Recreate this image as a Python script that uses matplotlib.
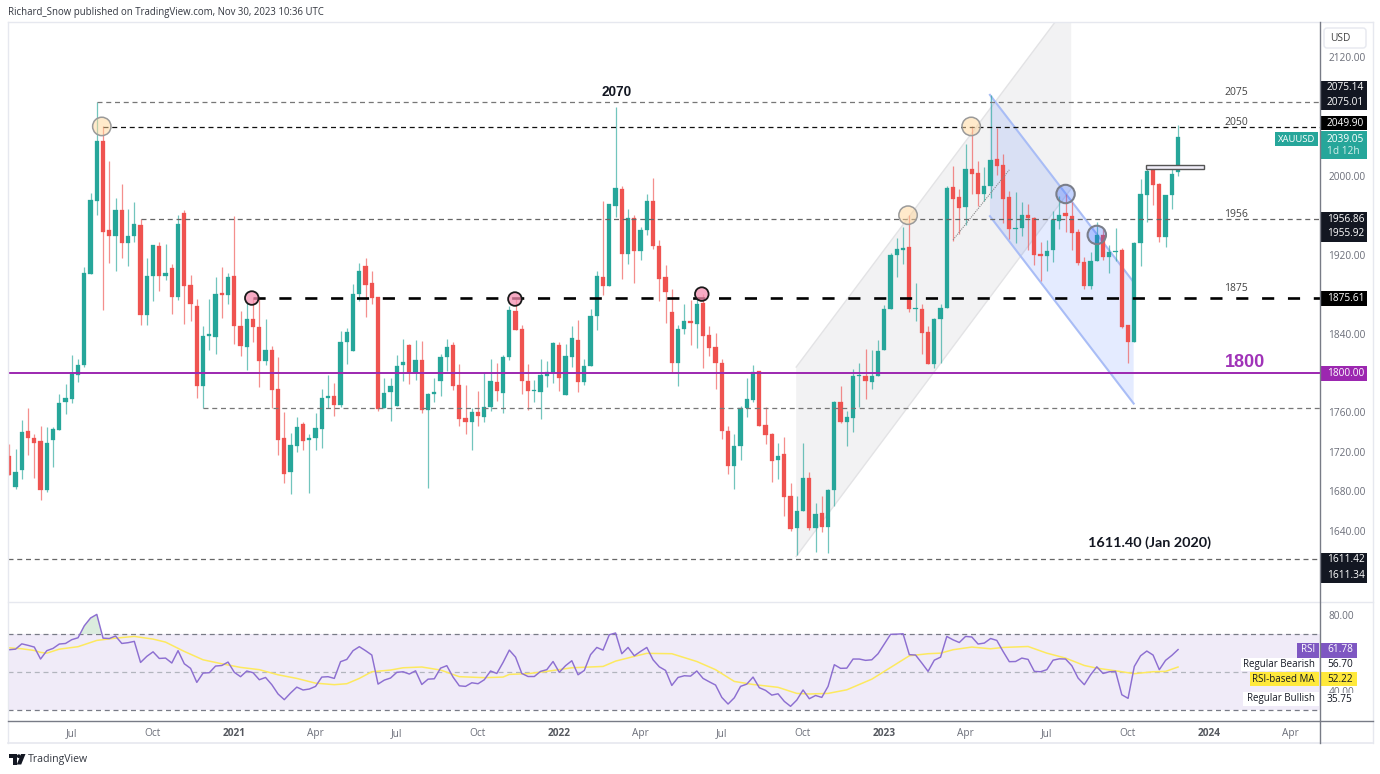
import numpy as np
import pandas as pd
import matplotlib
matplotlib.use("Agg")
import matplotlib.pyplot as plt
from matplotlib.patches import Polygon, Ellipse, Rectangle, FancyBboxPatch, Circle

plt.rcParams['font.family'] = ['Open Sans', 'Noto Sans', 'DejaVu Sans']

opens = [1716,1684,1702,1741,1734,1731,1681,1732,1742,1771,1774,1798,1808,1900,1974,2035,1945,1939,1965,1932,
         1939,1950,1859,1898,1929,1898,1906,1877,1962,1889,1868,1787,1838,1837,1881,1879,1898,1848,1826,1855,
         1847,1812,1823,1784,1734,1700,1726,1748,1732,1734,1743,1775,1777,1768,1831,1822,1880,1908,1891,1877,
         1764,1781,1767,1808,1828,1800,1813,1762,1779,1792,1816,1828,1788,1754,1750,1760,1755,1766,1791,1780,
         1816,1863,1845,1792,1782,1781,1797,1800,1828,1778,1816,1833,1791,1807,1858,1897,1888,1969,1987,1921,
         1957,1924,1945,1974,1929,1897,1862,1810,1845,1853,1850,1871,1839,1826,1810,1741,1706,1726,1764,1773,
         1802,1747,1738,1712,1718,1675,1643,1660,1694,1643,1658,1644,1681,1771,1750,1754,1797,1797,1791,1797,
         1823,1865,1920,1925,1928,1865,1865,1842,1809,1855,1866,1989,1978,1968,2007,2003,1981,1990,2017,2011,
         1978,1946,1947,1960,1957,1921,1919,1925,1954,1962,1959,1943,1913,1888,1914,1940,1918,1923,1925,1849,
         1831,1932,1980,2006,1992,1938,1980,2004]
highs = [1728,1723,1752,1765,1738,1746,1745,1745,1779,1789,1818,1814,1907,1983,2075,2050,2015,1977,1992,1966,
         1973,1956,1917,1930,1933,1931,1911,1960,1965,1899,1875,1848,1875,1897,1907,1901,1959,1863,1873,1876,
         1875,1855,1827,1816,1760,1739,1755,1750,1738,1759,1784,1798,1790,1843,1846,1890,1912,1917,1903,1877,
         1795,1795,1818,1834,1829,1833,1832,1780,1795,1819,1834,1831,1809,1788,1764,1782,1800,1814,1810,1818,
         1868,1875,1849,1809,1793,1814,1812,1831,1831,1829,1848,1854,1814,1865,1903,1974,1971,2070,1990,1966,
         1960,1948,1981,1998,1935,1909,1885,1849,1870,1874,1875,1880,1848,1841,1814,1746,1738,1767,1795,1808,
         1802,1766,1739,1729,1735,1688,1675,1729,1700,1668,1675,1682,1772,1787,1761,1804,1810,1824,1823,1833,
         1869,1922,1937,1948,1960,1891,1870,1848,1856,1870,1990,2010,1987,2032,2050,2015,2009,2082,2048,2022,
         1985,1984,1973,1971,1958,1933,1935,1964,1979,1982,1973,1946,1918,1923,1953,1946,1930,1947,1927,1849,
         1933,1997,2009,2008,1993,1980,2008,2051]
lows = [1697,1682,1693,1717,1694,1671,1679,1705,1742,1758,1770,1791,1806,1900,1960,1864,1912,1903,1917,1908,
        1933,1849,1849,1873,1883,1894,1860,1874,1850,1853,1775,1765,1823,1819,1856,1870,1829,1817,1803,1831,
        1786,1808,1765,1717,1688,1677,1720,1722,1678,1722,1724,1765,1756,1766,1809,1822,1873,1857,1870,1761,
        1764,1751,1767,1792,1789,1793,1759,1683,1771,1777,1802,1783,1746,1738,1722,1746,1750,1761,1772,1759,
        1813,1844,1779,1762,1771,1753,1786,1790,1782,1778,1806,1781,1788,1807,1844,1879,1888,1958,1895,1911,
        1891,1915,1940,1926,1873,1851,1800,1787,1840,1828,1825,1805,1817,1784,1733,1698,1682,1712,1755,1771,
        1746,1728,1689,1692,1655,1640,1615,1660,1641,1618,1639,1617,1665,1749,1726,1740,1766,1774,1784,1797,
        1823,1865,1897,1911,1862,1853,1819,1809,1805,1810,1866,1934,1941,1950,1982,1969,1974,1977,2001,1952,
        1936,1932,1939,1925,1910,1893,1903,1913,1946,1943,1925,1910,1885,1885,1914,1915,1901,1914,1846,1810,
        1831,1908,1953,1970,1933,1928,1966,2000]
closes = [1697,1700,1740,1734,1729,1681,1729,1743,1770,1775,1799,1808,1901,1975,2035,1943,1939,1965,1932,1939,
          1951,1859,1898,1930,1898,1901,1877,1951,1888,1870,1787,1838,1839,1880,1879,1897,1848,1827,1855,1847,
          1812,1823,1783,1732,1698,1727,1745,1731,1734,1744,1775,1777,1768,1831,1842,1880,1903,1889,1876,1763,
          1780,1787,1807,1811,1800,1813,1762,1779,1781,1816,1826,1787,1753,1750,1760,1756,1766,1792,1782,1816,
          1864,1844,1792,1782,1782,1798,1801,1830,1795,1817,1835,1791,1807,1858,1898,1888,1971,1988,1921,1957,
          1924,1945,1974,1929,1895,1882,1810,1845,1853,1851,1870,1838,1825,1810,1741,1706,1726,1765,1774,1801,
          1746,1737,1711,1716,1674,1642,1660,1694,1643,1657,1644,1681,1771,1750,1755,1797,1797,1792,1797,1822,
          1865,1920,1926,1927,1865,1865,1841,1809,1855,1866,1988,1976,1967,2007,2002,1981,1990,2016,2010,1976,
          1946,1947,1960,1957,1920,1919,1924,1955,1960,1959,1942,1912,1888,1914,1940,1918,1923,1924,1847,1831,
          1932,1981,2005,1991,1938,1980,2002,2039]

rsi = [61.7,62,64.8,64,63.1,56.8,61.2,62.4,64.7,65,67,68,74.3,78.4,80.3,67.8,67.6,68.9,65,65.4,
       66.1,55,58.2,60.6,57.1,57.3,54.7,61.2,54.3,51.9,44.5,49.4,49.6,53.1,53.4,55.2,49.8,47.5,50.5,49.6,
       45.9,47.1,43.3,38.4,35.4,38.9,42,40.5,41,42.4,47.3,47.5,46.6,55.4,56.6,61.2,63.3,61.2,58.9,43.6,
       45.7,46.8,49.8,50.1,48.9,50.6,43.4,46.2,46.4,52,53.3,47.3,42.7,
       42.4,44.3,43.8,45.9,50.5,49.2,55,61.5,57.8,49.2,47.6,47.6,50.3,51.2,55.5,49.8,53.3,55.9,48.5,50.8,
       59.1,62.9,61.5,69.6,70.5,59.6,62.9,58.5,60.8,62.9,56.4,52.7,50.8,42.9,47.1,48,47.8,50.5,46.6,44.8,
       43.1,36.6,33.1,36.4,42.4,43.6,47.3,41.7,40.3,37.8,38.5,34.5,31.9,35.2,40.5,35.9,37.6,36.6,42.4,53.8,
       51.9,52,56.8,56.8,56.1,56.4,59.6,64.7,69.8,69.9,70.1,59.1,
       58.9,54.7,50.3,56.2,57.8,68.7,66.9,65.5,68.7,68.4,64.7,65.2,67.6,66.6,60.8,55.4,55.5,57.3,56.6,50.3,
       50.1,51.2,56.2,56.9,56.8,53.3,46.8,43.3,48.5,52.7,49.2,50.1,50.3,38,36.1,52.9,58.5,61,58.9,51.2,
       56.1,58.7,61.78]

ma_week = [0,2,4,5,6,8,11,14,17,20,23,25,28,31,34,37,40,43,46,49,52,54,56,58,61,63,66,69,72,
           76,79,80,83,86,90,95,97,100,102,106,110,113,116,119,123,126,128,131,134,138,140,144,
           147,149,151,154,157,159,163,166,169,172,174,177,180,183,185,187]
ma_vals = [62.7,62.2,61.3,60.3,59.9,62,63.3,66.6,67.8,68.7,67.3,65.7,60.8,56.4,54.3,52.4,51.2,48.5,46.6,44.1,
           43.3,43.8,46.6,50.1,51,52.2,52.6,51,47.5,
           47,47.3,48.7,49.1,50.3,52.2,52.9,55.7,58.2,59.8,59.6,55.5,51.2,45,43.4,41.9,38.7,38.4,38.7,40.6,46.2,50.3,58.5,
           59.6,59.9,61.7,63.1,62.2,62.9,63.4,59.9,57.3,53.4,52,50.6,49.1,50.1,50.3,52.6]

tick_dates = ['2020-07-06','2020-10-05','2021-01-04','2021-04-05','2021-07-05','2021-10-04','2022-01-03','2022-04-04',
              '2022-07-04','2022-10-03','2023-01-02','2023-04-03','2023-07-03','2023-10-02','2024-01-01','2024-04-01']
tick_labels = ['Jul','Oct','2021','Apr','Jul','Oct','2022','Apr','Jul','Oct','2023','Apr','Jul','Oct','2024','Apr']
price_ticks = [2120,2000,1920,1840,1760,1720,1680,1640]
rsi_ticks = [80,40]
level_2075, level_2050, level_1956, level_1875, level_1800, level_1765, level_1611 = 2075,2049.9,1956,1875.6,1800,1765,1611.4

W, H = 1380, 774
UP, DOWN = '#26a69a', '#ef5350'
TXT = '#131722'
GREY = '#6a6d78'
first_week = pd.Timestamp('2020-04-27')
week_of = lambda d: (pd.Timestamp(d) - first_week).days / 7

fig = plt.figure(figsize=(W/100, H/100), dpi=100, facecolor='white')

def axpos(l, t, r, b):
    return [l/W, 1-b/H, (r-l)/W, (b-t)/H]

ax = fig.add_axes(axpos(8, 22, 1320, 601))
rx = fig.add_axes(axpos(8, 603, 1320, 720))
xlim = (-0.208, 209.71)
ax.set_xlim(*xlim); rx.set_xlim(*xlim)
ax.set_ylim(1568.8, 2155.9)
rx.set_ylim(24.7, 86.3)

# candles
o, h, l, c = map(np.array, (opens, highs, lows, closes))
x = np.arange(len(o))
cols = np.where(c >= o, UP, DOWN)
ax.vlines(x, l, h, colors=list(cols), lw=0.9, alpha=0.65, zorder=2)
top, bot = np.maximum(o, c), np.minimum(o, c)
ax.bar(x, np.maximum(top-bot, 1.2), bottom=bot, width=0.68, color=list(cols), lw=0.2, edgecolor=list(cols), zorder=2.5)

# channels
ax.add_patch(Polygon([(125.9,1806),(169.9,2177.6),(169.9,1987),(125.9,1614)], closed=True, fc='#f2f2f3', ec='none', zorder=1))
ax.plot([125.9,169.9],[1806,2177.6], color='#e3e3e5', lw=1, zorder=1.1)
ax.plot([125.9,169.9],[1614,1987], color='#e3e3e5', lw=1, zorder=1.1)
ax.add_patch(Polygon([(156.9,2082),(179.9,1892),(179.9,1769),(156.9,1959)], closed=True, fc='#2962ff', alpha=0.12, ec='none', zorder=1.2))
ax.plot([156.9,179.9],[2082,1892], color='#a9bdf6', lw=1.5, zorder=1.3)
ax.plot([156.9,179.9],[1959,1769], color='#a9bdf6', lw=1.5, zorder=1.3)
ax.plot([151,160],[1935,2006], color='#888888', lw=0.8, ls=(0,(1,1)), zorder=3)
ax.add_patch(Rectangle((181.9,2007),9.3,4, fc='#f0edf8', ec='#555555', lw=1, zorder=3))

# levels
xmax = xlim[1]
ax.plot([14,xmax],[level_2075]*2, color='#777777', lw=0.9, ls=(0,(4,3)), zorder=3)
ax.plot([15,xmax],[level_2050]*2, color='#111111', lw=0.9, ls=(0,(4,3)), zorder=3)
ax.plot([21,xmax],[level_1956]*2, color='#666666', lw=0.9, ls=(0,(4,3)), zorder=3)
ax.plot([31,xmax],[level_1765]*2, color='#777777', lw=0.9, ls=(0,(4,3)), zorder=3)
ax.plot([xlim[0],xmax],[level_1611]*2, color='#666666', lw=0.9, ls=(0,(4,3)), zorder=3)
ax.plot([39,xmax],[level_1875]*2, color='#000000', lw=1.9, ls=(0,(4.6,5.2)), zorder=3)
ax.plot([xlim[0],xmax],[level_1800]*2, color='#9c27b0', lw=1.4, zorder=3)

# markers
kx, ky = 1/6.25, 1.014
def mark(ix, price, r, fc, ec, lw):
    ax.add_patch(Ellipse((ix, price), 2*r*kx, 2*r*ky, fc=fc, ec=ec, lw=lw, zorder=4))
for ix, p in [(14.8,2050),(143.8,1960),(153.9,2050)]:
    mark(ix, p, 9.2, (1,0.84,0.6,0.5), '#9a9a9a', 1.1)
for ix, p in [(38.8,1876),(80.9,1875),(110.8,1880)]:
    mark(ix, p, 6.8, (0.96,0.56,0.69,0.75), '#1a1a1a', 1.3)
for ix, p in [(169,1981.5),(174,1940)]:
    mark(ix, p, 9.2, (0.16,0.38,1,0.28), '#7a7e8a', 1.5)

# text on chart
ax.text(97.1, 2085, '2070', ha='center', va='center', fontsize=9.8, fontweight='bold', family='Liberation Sans', color=TXT, zorder=5)
for price, s in [(2084,'2075'),(2054,'2050'),(1961,'1956'),(1886,'1875')]:
    ax.text(196.3, price, s, ha='center', va='center', fontsize=7.5, color='#444444', zorder=5)
ax.text(197.7, 1811, '1800', ha='center', va='center', fontsize=13, fontweight='bold', family='Liberation Sans', color='#a033b8', zorder=5)
ax.text(182.5, 1628, '1611.40 (Jan 2020)', ha='center', va='center', fontsize=10.4, fontweight='bold', family='Lato', color=TXT, zorder=5)

ax.yaxis.tick_right()
ax.set_yticks(price_ticks)
ax.set_yticklabels([f'{v:.2f}' for v in price_ticks])
ax.tick_params(axis='y', length=0, labelsize=7.3, labelcolor=GREY, pad=6)
ax.set_xticks([])
for s in ax.spines.values():
    s.set_visible(False)

# RSI
rx.axhspan(30, 70, fc='#7e57c2', alpha=0.115, lw=0, zorder=1)
rx.plot(xlim, [70,70], color='#787b86', lw=0.9, ls=(0,(4,3)), zorder=2)
rx.plot(xlim, [30,30], color='#787b86', lw=0.9, ls=(0,(4,3)), zorder=2)
rx.plot(xlim, [50,50], color='#b2b5be', lw=0.9, ls=(0,(4,3)), zorder=2)
xr = np.arange(len(rsi)); rv = np.array(rsi)
rx.fill_between(xr, 70, rv, where=rv > 70, interpolate=True, color='#cfe6d4', alpha=0.75, lw=0, zorder=2)
rx.plot(ma_week, ma_vals, color='#fde95f', lw=1.1, zorder=3)
rx.plot(xr, rv, color='#8d6fd1', lw=1.05, zorder=4)
rx.yaxis.tick_right()
rx.set_yticks(rsi_ticks)
rx.set_yticklabels([f'{v:.2f}' for v in rsi_ticks])
rx.tick_params(axis='y', length=0, labelsize=7.3, labelcolor=GREY, pad=6)
rx.set_xticks([week_of(d) for d in tick_dates])
rx.set_xticklabels(tick_labels)
rx.tick_params(axis='x', length=0, labelsize=7.3, labelcolor=GREY, pad=6)
for t, s in zip(rx.get_xticklabels(), tick_labels):
    if s.isdigit():
        t.set_fontweight('bold'); t.set_color('#55585f')
for s in rx.spines.values():
    s.set_visible(False)

# overlay in pixel space
ov = fig.add_axes([0,0,1,1], zorder=10)
ov.set_xlim(0, W); ov.set_ylim(H, 0); ov.axis('off'); ov.patch.set_alpha(0)

BORDER = '#e6e8ef'
ov.plot([8,1373],[21.5,21.5], color=BORDER, lw=1)
ov.plot([8,8],[21.5,743], color=BORDER, lw=1)
ov.plot([1373,1373],[21.5,743], color=BORDER, lw=1)
ov.plot([8,1373],[743,743], color=BORDER, lw=1.2)
ov.plot([8,1373],[602,602], color=BORDER, lw=1)
ov.plot([8,1373],[720.5,720.5], color='#787b86', lw=1)
ov.plot([1320,1320],[22,743], color='#787b86', lw=1)

ov.text(8, 12.5, 'Richard_Snow published on TradingView.com, Nov 30, 2023 10:36 UTC', fontsize=6.9, color='#333740', va='center', ha='left')

ov.add_patch(FancyBboxPatch((1324,28),42,20, boxstyle='round,pad=0,rounding_size=3', fc='white', ec='#e6e8ef', lw=1))
ov.text(1340, 38.5, 'USD', fontsize=7.3, color='#444', ha='center', va='center')

def badge(ymid, s, fc, tc='white', x0=1321, x1=1367, hh=7.5):
    ov.add_patch(Rectangle((x0, ymid-hh), x1-x0, 2*hh, fc=fc, ec='none'))
    ov.text(1327, ymid, s, color=tc, fontsize=7.3, va='center', ha='left')

DARK = '#131722'
badge(88, '2075.14', DARK)
badge(102.5, '2075.01', DARK)
badge(123, '2049.90', '#000000', hh=7)
ov.add_patch(Rectangle((1321,131),46,27.5, fc=UP, ec='none'))
ov.text(1327, 139, '2039.05', color='white', fontsize=7.3, va='center', ha='left')
ov.text(1327, 151.5, '1d 12h', color='#d5efeb', fontsize=7.3, va='center', ha='left')
ov.add_patch(Rectangle((1275,131.5),43,14, fc=UP, ec='none'))
ov.text(1296.5, 139, 'XAUUSD', color='white', fontsize=6.8, ha='center', va='center')
badge(219, '1956.86', DARK)
badge(234, '1955.92', DARK)
badge(298.5, '1875.61', '#000000')
badge(373.5, '1800.00', '#9c27b0')
badge(560, '1611.42', DARK)
badge(575, '1611.34', DARK)

# RSI side badges
ov.add_patch(Rectangle((1297,643),22,14.5, fc='#7e57c2', ec='none'))
ov.text(1308, 650, 'RSI', color='white', fontsize=7, ha='center', va='center')
ov.add_patch(Rectangle((1321,643),36,14.5, fc='#7e57c2', ec='none'))
ov.text(1327, 650, '61.78', color='white', fontsize=7.3, va='center', ha='left')
ov.add_patch(Rectangle((1241,658),78,13, fc='white', ec='none'))
ov.add_patch(Rectangle((1321,658),36,13.5, fc='white', ec='none'))
ov.text(1315, 664, 'Regular Bearish', color=TXT, fontsize=7, ha='right', va='center')
ov.text(1327, 664.5, '56.70', color=TXT, fontsize=7.3, va='center', ha='left')
ov.add_patch(Rectangle((1250,672),69,14, fc='#ffe93b', ec='none'))
ov.add_patch(Rectangle((1321,672),36,14, fc='#ffe93b', ec='none'))
ov.text(1315, 679, 'RSI-based MA', color=TXT, fontsize=7, ha='right', va='center')
ov.text(1327, 679, '52.22', color=TXT, fontsize=7.3, va='center', ha='left')
ov.add_patch(Rectangle((1243,691.5),76,14, fc='white', ec='none'))
ov.add_patch(Rectangle((1321,692.5),36,14, fc='white', ec='none'))
ov.text(1315, 698, 'Regular Bullish', color=TXT, fontsize=7, ha='right', va='center')
ov.text(1327, 700, '35.75', color=TXT, fontsize=7.3, va='center', ha='left')

# footer logo
ov.add_patch(Polygon([(8.5,754),(16.5,754),(16.5,764.5),(12.5,764.5),(12.5,758),(8.5,758)], closed=True, fc='#131722', ec='none'))
ov.add_patch(Circle((18.8,756.2),1.9, fc='#131722', ec='none'))
ov.add_patch(Polygon([(21,754),(25.5,754),(21.2,764.5),(16.8,764.5)], closed=True, fc='#131722', ec='none'))
ov.text(28, 759.5, 'TradingView', fontsize=7.6, color='#333740', va='center', ha='left')

fig.savefig('out.png', dpi=100, facecolor='white')
